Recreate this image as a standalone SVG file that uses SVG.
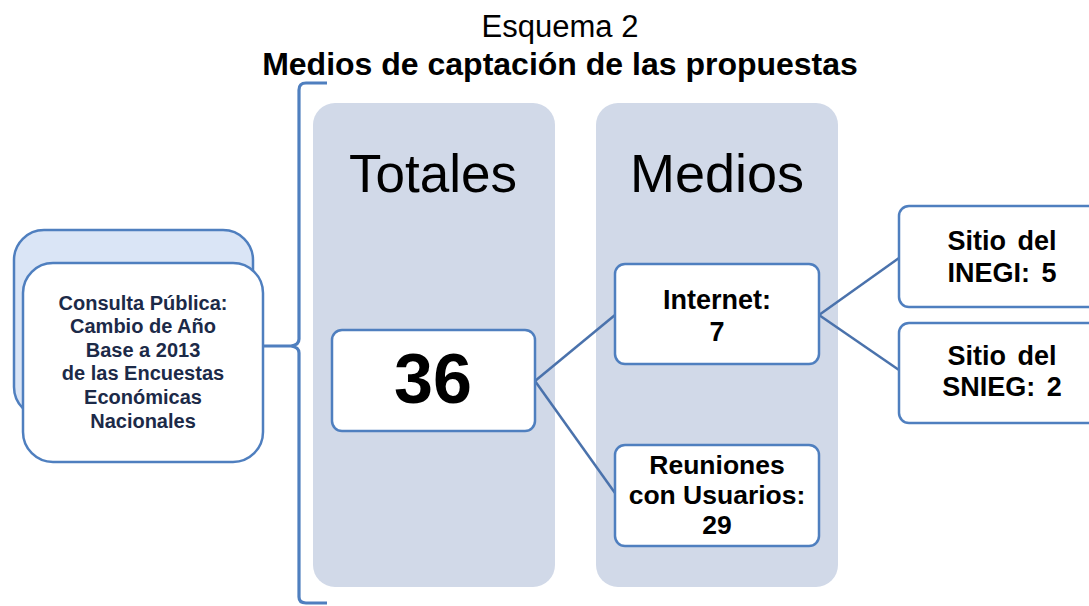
<svg xmlns="http://www.w3.org/2000/svg" width="1089" height="606" viewBox="0 0 1089 606">
<style>
.col{fill:#d1d9e8;}
.box{fill:#ffffff;stroke:#4f7fbf;stroke-width:2.5;}
.conn{fill:none;stroke:#4a72ac;stroke-width:2.5;}
.brk{fill:none;stroke:#4f7fbf;stroke-width:3.2;}
.t{font-family:"Liberation Sans",Arial,sans-serif;text-anchor:middle;fill:#000;}
.b{font-weight:bold;}
.nav{fill:#1c2a48;}
</style>
<rect width="1089" height="606" fill="#ffffff"/>
<g id="title">
<text class="t" x="560" y="37" font-size="31">Esquema 2</text>
<text class="t b" x="560" y="75" font-size="32">Medios de captación de las propuestas</text>
</g>
<g id="col-totales">
<rect class="col" x="313" y="103" width="242" height="484" rx="22"/>
<text class="t" x="433" y="192" font-size="53">Totales</text>
</g>
<g id="col-medios">
<rect class="col" x="596" y="103" width="242" height="484" rx="22"/>
<text class="t" x="717" y="192" font-size="54">Medios</text>
</g>
<g id="connectors">
<path class="brk" d="M263,346 H291 M327,83 H306 Q299,83 299,90 V339 Q299,345 291,346 Q299,347 299,353 V597 Q299,603 306,603 H327"/>
<line class="conn" x1="535" y1="381" x2="615" y2="315"/>
<line class="conn" x1="535" y1="381" x2="615" y2="493"/>
<line class="conn" x1="819" y1="315" x2="899" y2="258"/>
<line class="conn" x1="819" y1="315" x2="899" y2="370"/>
</g>
<g id="node-consulta">
<rect x="14" y="230" width="239" height="187" rx="30" fill="#dae5f6" stroke="#4f7fbf" stroke-width="2.5"/>
<rect class="box" x="23" y="263" width="240" height="199" rx="30"/>
<g class="t b nav" font-size="20">
<text x="143" y="310">Consulta Pública:</text>
<text x="143" y="333">Cambio de Año</text>
<text x="143" y="357">Base a 2013</text>
<text x="143" y="380">de las Encuestas</text>
<text x="143" y="404">Económicas</text>
<text x="143" y="428">Nacionales</text>
</g>
</g>
<g id="node-36">
<rect class="box" x="332" y="330" width="203" height="101" rx="10"/>
<text class="t b" x="433" y="403" font-size="70">36</text>
</g>
<g id="node-internet">
<rect class="box" x="615" y="264" width="204" height="100" rx="10"/>
<text class="t b" x="717" y="309" font-size="27">Internet:</text>
<text class="t b" x="717" y="341" font-size="27">7</text>
</g>
<g id="node-reuniones">
<rect class="box" x="615" y="445" width="204" height="101" rx="10"/>
<text class="t b" x="717" y="474" font-size="26.5">Reuniones</text>
<text class="t b" x="717" y="504" font-size="26.5">con Usuarios:</text>
<text class="t b" x="717" y="534" font-size="26.5">29</text>
</g>
<g id="node-inegi">
<rect class="box" x="899" y="206" width="210" height="101" rx="10"/>
<text class="t b" x="1002" y="250" font-size="27" word-spacing="4">Sitio del</text>
<text class="t b" x="1002" y="282" font-size="27" word-spacing="4">INEGI: 5</text>
</g>
<g id="node-snieg">
<rect class="box" x="899" y="323" width="210" height="100" rx="10"/>
<text class="t b" x="1002" y="365" font-size="27" word-spacing="4">Sitio del</text>
<text class="t b" x="1002" y="396" font-size="27" word-spacing="4">SNIEG: 2</text>
</g>
</svg>
